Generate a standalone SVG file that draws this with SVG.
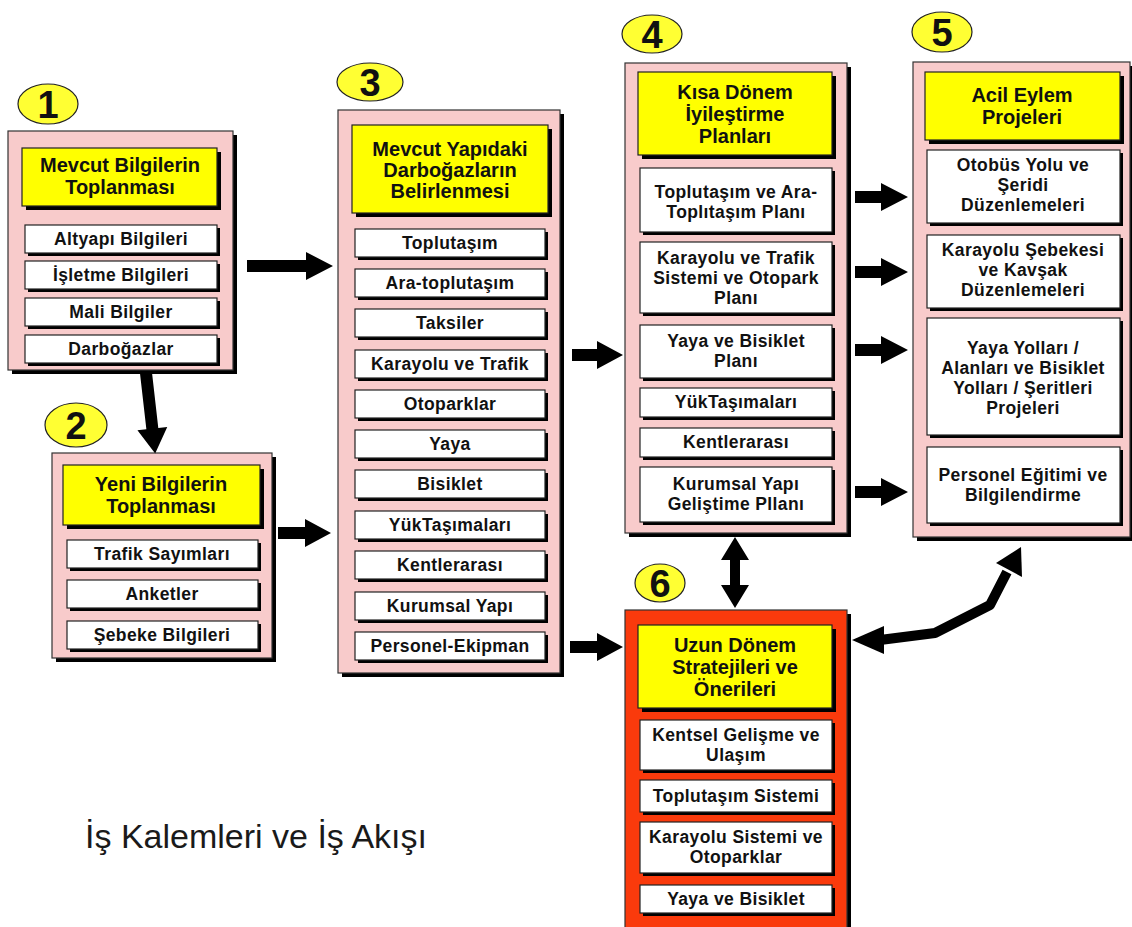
<svg xmlns="http://www.w3.org/2000/svg" width="1132" height="927" viewBox="0 0 1132 927">
<style>
.bg{fill:#ffffff}
.sh{fill:#000000}
.pink{fill:#f8cbcb;stroke:#333;stroke-width:1.2}
.red{fill:#fa3a0c;stroke:#333;stroke-width:1.2}
.yel{fill:#ffff00;stroke:#222;stroke-width:1.2}
.wht{fill:#ffffff;stroke:#222;stroke-width:1.2}
.num{fill:#ffff33;stroke:#222;stroke-width:1.2}
.tt{font-family:"Liberation Sans",Arial,sans-serif;font-weight:bold;font-size:20px;fill:#111;text-anchor:middle}
.st{font-family:"Liberation Sans",Arial,sans-serif;font-weight:bold;font-size:17.5px;letter-spacing:0.4px;fill:#111;text-anchor:middle}
.nt{font-family:"Liberation Sans",Arial,sans-serif;font-weight:bold;font-size:38px;fill:#111;text-anchor:middle}
.arr{fill:#000}
.arl{fill:none;stroke:#000;stroke-width:10;stroke-linejoin:round}
</style>
<rect class="bg" x="0" y="0" width="1132" height="927"/>

<!-- Node 1 -->
<g id="node1">
<ellipse class="num" cx="48" cy="104" rx="30" ry="20"/>
<text class="nt" x="48" y="118">1</text>
<rect class="sh" x="12" y="135" width="225" height="239"/>
<rect class="pink" x="8" y="131" width="225" height="239"/>
<rect class="sh" x="26" y="152" width="195" height="58"/>
<rect class="yel" x="22" y="148" width="195" height="58"/>
<text class="tt" x="120" y="172">Mevcut Bilgilerin</text>
<text class="tt" x="120" y="194">Toplanması</text>
<rect class="sh" x="28" y="228" width="192" height="28"/>
<rect class="wht" x="25" y="225" width="192" height="28"/>
<text class="st" x="121" y="245">Altyapı Bilgileri</text>
<rect class="sh" x="28" y="264" width="192" height="28"/>
<rect class="wht" x="25" y="261" width="192" height="28"/>
<text class="st" x="121" y="281">İşletme Bilgileri</text>
<rect class="sh" x="28" y="301" width="192" height="28"/>
<rect class="wht" x="25" y="298" width="192" height="28"/>
<text class="st" x="121" y="318">Mali Bilgiler</text>
<rect class="sh" x="28" y="338" width="192" height="28"/>
<rect class="wht" x="25" y="335" width="192" height="28"/>
<text class="st" x="121" y="355">Darboğazlar</text>
</g>

<!-- Node 2 -->
<g id="node2">
<ellipse class="num" cx="76" cy="425" rx="31" ry="22"/>
<text class="nt" x="76" y="439">2</text>
<rect class="sh" x="56" y="457" width="220" height="205"/>
<rect class="pink" x="52" y="453" width="220" height="205"/>
<rect class="sh" x="67" y="469" width="197" height="60"/>
<rect class="yel" x="63" y="465" width="197" height="60"/>
<text class="tt" x="161" y="491">Yeni Bilgilerin</text>
<text class="tt" x="161" y="513">Toplanması</text>
<rect class="sh" x="70" y="543" width="191" height="28"/>
<rect class="wht" x="67" y="540" width="191" height="28"/>
<text class="st" x="162" y="560">Trafik Sayımları</text>
<rect class="sh" x="70" y="583" width="191" height="28"/>
<rect class="wht" x="67" y="580" width="191" height="28"/>
<text class="st" x="162" y="600">Anketler</text>
<rect class="sh" x="70" y="624" width="191" height="28"/>
<rect class="wht" x="67" y="621" width="191" height="28"/>
<text class="st" x="162" y="641">Şebeke Bilgileri</text>
</g>

<!-- Node 3 -->
<g id="node3">
<ellipse class="num" cx="370" cy="82" rx="33" ry="19"/>
<text class="nt" x="370" y="96">3</text>
<rect class="sh" x="342" y="114" width="222" height="563"/>
<rect class="pink" x="338" y="110" width="222" height="563"/>
<rect class="sh" x="356" y="129" width="196" height="88"/>
<rect class="yel" x="352" y="125" width="196" height="88"/>
<text class="tt" x="450" y="156">Mevcut Yapıdaki</text>
<text class="tt" x="450" y="177">Darboğazların</text>
<text class="tt" x="450" y="198">Belirlenmesi</text>
<rect class="sh" x="358" y="232" width="190" height="28"/><rect class="wht" x="355" y="229" width="190" height="28"/>
<text class="st" x="450" y="249">Toplutaşım</text>
<rect class="sh" x="358" y="272" width="190" height="28"/><rect class="wht" x="355" y="269" width="190" height="28"/>
<text class="st" x="450" y="289">Ara-toplutaşım</text>
<rect class="sh" x="358" y="312" width="190" height="28"/><rect class="wht" x="355" y="309" width="190" height="28"/>
<text class="st" x="450" y="329">Taksiler</text>
<rect class="sh" x="358" y="353" width="190" height="28"/><rect class="wht" x="355" y="350" width="190" height="28"/>
<text class="st" x="450" y="370">Karayolu ve Trafik</text>
<rect class="sh" x="358" y="393" width="190" height="28"/><rect class="wht" x="355" y="390" width="190" height="28"/>
<text class="st" x="450" y="410">Otoparklar</text>
<rect class="sh" x="358" y="433" width="190" height="28"/><rect class="wht" x="355" y="430" width="190" height="28"/>
<text class="st" x="450" y="450">Yaya</text>
<rect class="sh" x="358" y="473" width="190" height="28"/><rect class="wht" x="355" y="470" width="190" height="28"/>
<text class="st" x="450" y="490">Bisiklet</text>
<rect class="sh" x="358" y="514" width="190" height="28"/><rect class="wht" x="355" y="511" width="190" height="28"/>
<text class="st" x="450" y="531">YükTaşımaları</text>
<rect class="sh" x="358" y="554" width="190" height="28"/><rect class="wht" x="355" y="551" width="190" height="28"/>
<text class="st" x="450" y="571">Kentlerarası</text>
<rect class="sh" x="358" y="595" width="190" height="28"/><rect class="wht" x="355" y="592" width="190" height="28"/>
<text class="st" x="450" y="612">Kurumsal Yapı</text>
<rect class="sh" x="358" y="635" width="190" height="28"/><rect class="wht" x="355" y="632" width="190" height="28"/>
<text class="st" x="450" y="652">Personel-Ekipman</text>
</g>

<!-- Node 4 -->
<g id="node4">
<ellipse class="num" cx="652" cy="34" rx="30" ry="19"/>
<text class="nt" x="652" y="48">4</text>
<rect class="sh" x="629" y="67" width="222" height="470"/>
<rect class="pink" x="625" y="63" width="222" height="470"/>
<rect class="sh" x="642" y="76" width="194" height="83"/>
<rect class="yel" x="638" y="72" width="194" height="83"/>
<text class="tt" x="735" y="99">Kısa Dönem</text>
<text class="tt" x="735" y="121">İyileştirme</text>
<text class="tt" x="735" y="143">Planları</text>
<rect class="sh" x="643" y="171" width="192" height="64"/><rect class="wht" x="640" y="168" width="192" height="64"/>
<text class="st" x="736" y="198">Toplutaşım ve Ara-</text>
<text class="st" x="736" y="218">Toplıtaşım Planı</text>
<rect class="sh" x="643" y="245" width="192" height="71"/><rect class="wht" x="640" y="242" width="192" height="71"/>
<text class="st" x="736" y="264">Karayolu ve Trafik</text>
<text class="st" x="736" y="284">Sistemi ve Otopark</text>
<text class="st" x="736" y="304">Planı</text>
<rect class="sh" x="643" y="328" width="192" height="53"/><rect class="wht" x="640" y="325" width="192" height="53"/>
<text class="st" x="736" y="347">Yaya ve Bisiklet</text>
<text class="st" x="736" y="367">Planı</text>
<rect class="sh" x="643" y="391" width="192" height="29"/><rect class="wht" x="640" y="388" width="192" height="29"/>
<text class="st" x="736" y="408">YükTaşımaları</text>
<rect class="sh" x="643" y="431" width="192" height="29"/><rect class="wht" x="640" y="428" width="192" height="29"/>
<text class="st" x="736" y="448">Kentlerarası</text>
<rect class="sh" x="643" y="470" width="192" height="55"/><rect class="wht" x="640" y="467" width="192" height="55"/>
<text class="st" x="736" y="490">Kurumsal Yapı</text>
<text class="st" x="736" y="510">Geliştime Pllanı</text>
</g>

<!-- Node 5 -->
<g id="node5">
<ellipse class="num" cx="942" cy="32" rx="30" ry="20"/>
<text class="nt" x="942" y="46">5</text>
<rect class="sh" x="917" y="66" width="217" height="475"/>
<rect class="pink" x="913" y="62" width="217" height="475"/>
<rect class="sh" x="929" y="76" width="195" height="68"/>
<rect class="yel" x="925" y="72" width="195" height="68"/>
<text class="tt" x="1022" y="102">Acil Eylem</text>
<text class="tt" x="1022" y="124">Projeleri</text>
<rect class="sh" x="930" y="153" width="193" height="73"/><rect class="wht" x="927" y="150" width="193" height="73"/>
<text class="st" x="1023" y="171">Otobüs Yolu ve</text>
<text class="st" x="1023" y="191">Şeridi</text>
<text class="st" x="1023" y="211">Düzenlemeleri</text>
<rect class="sh" x="930" y="238" width="193" height="73"/><rect class="wht" x="927" y="235" width="193" height="73"/>
<text class="st" x="1023" y="256">Karayolu Şebekesi</text>
<text class="st" x="1023" y="276">ve Kavşak</text>
<text class="st" x="1023" y="296">Düzenlemeleri</text>
<rect class="sh" x="930" y="321" width="193" height="117"/><rect class="wht" x="927" y="318" width="193" height="117"/>
<text class="st" x="1023" y="354">Yaya Yolları /</text>
<text class="st" x="1023" y="374">Alanları ve Bisiklet</text>
<text class="st" x="1023" y="394">Yolları / Şeritleri</text>
<text class="st" x="1023" y="414">Projeleri</text>
<rect class="sh" x="930" y="450" width="193" height="76"/><rect class="wht" x="927" y="447" width="193" height="76"/>
<text class="st" x="1023" y="481">Personel Eğitimi ve</text>
<text class="st" x="1023" y="501">Bilgilendirme</text>
</g>

<!-- Node 6 -->
<g id="node6">
<ellipse class="num" cx="660" cy="583" rx="25" ry="19"/>
<text class="nt" x="660" y="597">6</text>
<rect class="sh" x="629" y="614" width="222" height="315"/>
<rect class="red" x="625" y="610" width="222" height="318"/>
<rect class="sh" x="642" y="629" width="194" height="83"/>
<rect class="yel" x="638" y="625" width="194" height="83"/>
<text class="tt" x="735" y="652">Uzun Dönem</text>
<text class="tt" x="735" y="674">Stratejileri ve</text>
<text class="tt" x="735" y="696">Önerileri</text>
<rect class="sh" x="643" y="723" width="192" height="50"/><rect class="wht" x="640" y="720" width="192" height="50"/>
<text class="st" x="736" y="741">Kentsel Gelişme ve</text>
<text class="st" x="736" y="761">Ulaşım</text>
<rect class="sh" x="643" y="783" width="192" height="32"/><rect class="wht" x="640" y="780" width="192" height="32"/>
<text class="st" x="736" y="802">Toplutaşım Sistemi</text>
<rect class="sh" x="643" y="825" width="192" height="51"/><rect class="wht" x="640" y="822" width="192" height="51"/>
<text class="st" x="736" y="843">Karayolu Sistemi ve</text>
<text class="st" x="736" y="863">Otoparklar</text>
<rect class="sh" x="643" y="888" width="192" height="28"/><rect class="wht" x="640" y="885" width="192" height="28"/>
<text class="st" x="736" y="905">Yaya ve Bisiklet</text>
</g>

<!-- Connectors -->
<g id="connectors">
<polygon class="arr" transform="translate(146,373) rotate(-6.5)" points="-6,0 6,0 6,56 15,56 0,81 -15,56 -6,56"/>
<polygon class="arr" points="247,260 306,260 306,252 333,266 306,280 306,272 247,272"/>
<polygon class="arr" points="278,527 305,527 305,519 331,533 305,547 305,539 278,539"/>
<polygon class="arr" points="572,349 597,349 597,341 623,355 597,369 597,361 572,361"/>
<polygon class="arr" points="570,641 597,641 597,633 623,647 597,661 597,653 570,653"/>
<polygon class="arr" points="855,191 881,191 881,183 908,197 881,211 881,203 855,203"/>
<polygon class="arr" points="855,266 881,266 881,258 908,272 881,286 881,278 855,278"/>
<polygon class="arr" points="855,344 881,344 881,336 908,350 881,364 881,356 855,356"/>
<polygon class="arr" points="855,486 881,486 881,478 908,492 881,506 881,498 855,498"/>
<polygon class="arr" points="735,537 749,560 740,560 740,585 749,585 735,608 721,585 730,585 730,560 721,560"/>
<polyline class="arl" points="880,640 935,633 990,605 1007,572"/>
<polygon class="arr" points="852,640 884,626 884,654"/>
<polygon class="arr" points="1021,547 1022,577 996,563"/>
</g>

<text x="85" y="848" font-family="Liberation Sans, Arial, sans-serif" font-size="34" fill="#1a1a1a">İş Kalemleri ve İş Akışı</text>
</svg>
